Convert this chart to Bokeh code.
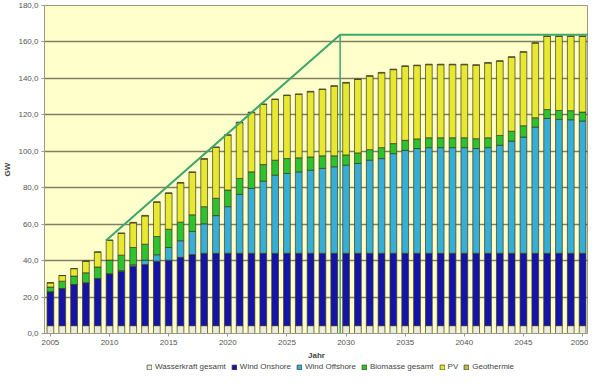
from bokeh.plotting import figure
from bokeh.layouts import column
from bokeh.models import Range1d, FixedTicker, Legend, LegendItem, ColumnDataSource
from bokeh.embed import file_html
from bokeh.resources import INLINE

years = list(range(2005, 2051))

wasserkraft = [4.3] * 46
wind_onshore = [18.6, 20.4, 22.6, 23.5, 25.9, 28.4, 29.9, 32.6, 33.5, 35.4, 35.9, 37.5, 39.0] + [39.7] * 33
wind_offshore = [0.0, 0.0, 0.0, 0.0, 0.0, 0.1, 0.3, 0.8, 2.5, 3.5, 7.0, 9.1, 12.7, 16.2, 20.7, 25.6,
                 32.4, 35.6, 39.6, 42.9, 43.8, 44.7, 45.6, 46.6, 47.5, 48.4, 49.3, 51.1, 52.0, 54.7,
                 56.5, 57.5, 58.0, 58.0, 58.0, 58.0, 57.5, 58.0, 59.3, 61.6, 63.8, 69.3, 74.0, 73.5,
                 73.3, 72.6]
biomasse = [2.6, 4.0, 4.6, 5.5, 6.3, 7.5, 8.5, 9.5, 8.7, 10.0, 10.0, 10.2, 9.1, 9.4, 9.5, 9.1,
            8.7, 9.1, 9.1, 8.2, 8.2, 7.7, 7.3, 6.9, 6.0, 5.6, 5.8, 5.8, 6.0, 5.5,
            5.5, 5.3, 5.4, 5.4, 5.4, 5.4, 5.4, 5.4, 5.4, 5.4, 6.2, 5.1, 4.9, 4.9,
            5.0, 4.9]
pv = [2.3, 3.1, 4.1, 6.4, 8.2, 10.8, 11.9, 13.5, 15.5, 18.8, 19.7, 21.5, 23.3, 26.1, 27.9, 30.1,
      30.6, 32.5, 33.0, 33.3, 34.6, 34.8, 35.7, 36.4, 38.2, 39.5, 40.3, 40.3, 41.0, 40.6,
      40.6, 40.2, 40.1, 40.1, 40.1, 40.1, 40.3, 41.0, 40.7, 40.6, 40.4, 40.9, 40.1, 40.6,
      40.7, 41.5]
geothermie = [0.0, 0.0, 0.0, 0.0, 0.0, 0.2, 0.3, 0.3, 0.3, 0.3, 0.3, 0.3, 0.3, 0.3, 0.3, 0.3,
              0.3, 0.3, 0.3, 0.3, 0.3, 0.3, 0.3, 0.3, 0.3, 0.3, 0.3, 0.3, 0.3, 0.3,
              0.3, 0.3, 0.3, 0.3, 0.3, 0.3, 0.3, 0.3, 0.3, 0.3, 0.3, 0.3, 0.3, 0.3,
              0.3, 0.3]

series_names = ["Wasserkraft gesamt", "Wind Onshore", "Wind Offshore", "Biomasse gesamt", "PV", "Geothermie"]
series_keys = ["wasser", "onshore", "offshore", "biomasse", "pv", "geo"]
colors = ["#ECECDC", "#1414A8", "#36AED6", "#2FC22F", "#E8E830", "#C9B84A"]

# target line (Leitszenario)
line_x = [2009.7, 2029.5, 2050.5]
line_y = [51.0, 164.0, 164.0]
vline_x = [2029.5, 2029.5]
vline_y = [0.0, 164.0]

y_ticks = [0, 20, 40, 60, 80, 100, 120, 140, 160, 180]
x_ticks = [2005, 2010, 2015, 2020, 2025, 2030, 2035, 2040, 2045, 2050]

src = ColumnDataSource(dict(x=years, wasser=wasserkraft, onshore=wind_onshore, offshore=wind_offshore,
                            biomasse=biomasse, pv=pv, geo=geothermie))

p = figure(width=588, height=362, output_backend="svg", toolbar_location=None,
           x_range=Range1d(2004.5, 2050.5), y_range=Range1d(0, 180),
           min_border_left=34, min_border_right=0, min_border_top=5, min_border_bottom=26)
p.background_fill_color = "#FFFFCC"
p.border_fill_color = "white"
p.outline_line_color = "#9A9A8A"
p.outline_line_width = 1

renderers = p.vbar_stack(series_keys, x="x", width=0.57, source=src, color=colors,
                         line_color="#3A3A20", line_width=0.7)

p.line(line_x, line_y, line_color="#3EA66B", line_width=2)
p.line(vline_x, vline_y, line_color="#3EA66B", line_width=1.5)

p.xgrid.grid_line_color = None
p.ygrid.grid_line_color = "#7F7F62"
p.ygrid.grid_line_width = 1.3
p.yaxis.ticker = FixedTicker(ticks=y_ticks)
p.yaxis.major_label_overrides = {t: f"{t},0" for t in y_ticks}
p.xaxis.ticker = FixedTicker(ticks=x_ticks)
p.yaxis.minor_tick_line_color = None
p.xaxis.minor_tick_line_color = None

for ax in (p.xaxis[0], p.yaxis[0]):
    ax.axis_line_color = "#9A9A8A"
    ax.major_tick_line_color = "#9A9A8A"
    ax.major_tick_out = 3
    ax.major_tick_in = 0
    ax.major_label_text_font = "Liberation Sans"
    ax.major_label_text_font_size = "8px"
    ax.major_label_text_color = "#555555"
    ax.axis_label_text_font = "Liberation Sans"
    ax.axis_label_text_font_size = "8px"
    ax.axis_label_text_font_style = "bold"
    ax.axis_label_text_color = "#444444"
    ax.major_label_standoff = 3
    ax.axis_label_standoff = 3

p.xaxis.axis_label = "Jahr"
p.yaxis.axis_label = "GW"

# legend strip below the chart (dummy zero-size glyphs only provide legend swatches)
lf = figure(width=588, height=10, output_backend="svg", toolbar_location=None,
            x_range=Range1d(0, 1), y_range=Range1d(0, 1),
            x_axis_location=None, y_axis_location=None,
            min_border=0, min_border_left=0, min_border_right=0, min_border_top=0, min_border_bottom=0)
lf.grid.visible = False
lf.outline_line_color = None
lf.background_fill_color = "white"
legend_renderers = [lf.vbar(x=[0.99], bottom=[0.5], top=[0.5], width=0.0, fill_color=c,
                            line_color="#3A3A20", line_width=0.7)
                    for c in colors]
items = [LegendItem(label=n, renderers=[r]) for n, r in zip(series_names, legend_renderers)]
legend = Legend(items=items, orientation="horizontal", location=(101, 0),
                label_text_font="Liberation Sans", label_text_font_size="8px",
                label_text_color="#444444", glyph_width=6, glyph_height=6,
                label_standoff=3, spacing=5, padding=1, margin=0,
                border_line_alpha=0, background_fill_alpha=0,
                label_height=8, label_width=8)
lf.add_layout(legend)

open("out.html", "w").write(file_html(column(p, lf, spacing=0), INLINE))
